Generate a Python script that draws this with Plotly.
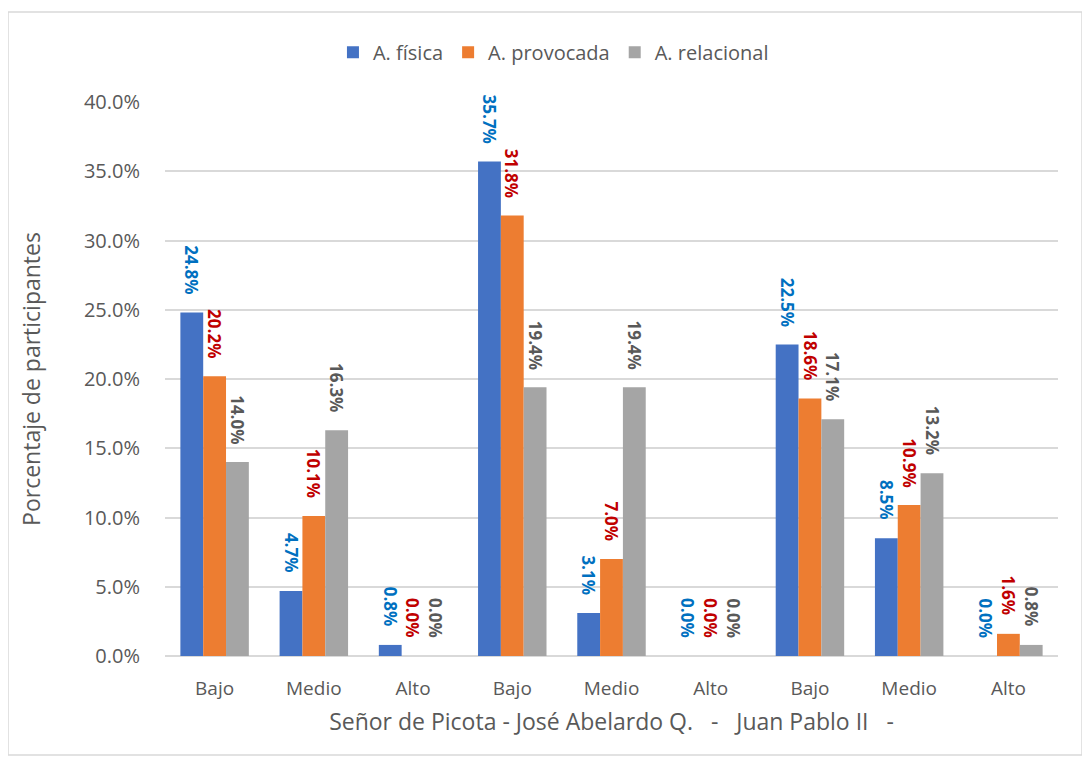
import plotly.graph_objects as go

categories = ["Bajo", "Medio", "Alto", "Bajo", "Medio", "Alto", "Bajo", "Medio", "Alto"]
series_names = ["A. física", "A. provocada", "A. relacional"]
fisica = [24.8, 4.7, 0.8, 35.7, 3.1, 0.0, 22.5, 8.5, 0.0]
provocada = [20.2, 10.1, 0.0, 31.8, 7.0, 0.0, 18.6, 10.9, 1.6]
relacional = [14.0, 16.3, 0.0, 19.4, 19.4, 0.0, 17.1, 13.2, 0.8]
bar_colors = ["#4472C4", "#ED7D31", "#A5A5A5"]
label_colors = ["#0070C0", "#C00000", "#595959"]
y_ticks = [0, 5, 10, 15, 20, 25, 30, 35, 40]
x_title = "Señor de Picota - José Abelardo Q.   -   Juan Pablo II   -"
y_title = "Porcentaje de participantes"

FONT = "Open Sans, Liberation Sans, Arial, sans-serif"
bargap = 0.31
xs = list(range(len(categories)))
all_series = [fisica, provocada, relacional]

fig = go.Figure()
for name, vals, col in zip(series_names, all_series, bar_colors):
    fig.add_trace(go.Bar(x=xs, y=vals, name=name, marker=dict(color=col, line=dict(width=0))))

bw = (1 - bargap) / 3
annotations = []
for i, (vals, lc) in enumerate(zip(all_series, label_colors)):
    for k, v in zip(xs, vals):
        annotations.append(dict(
            x=k + (i - 1) * bw, y=v, xref="x", yref="y",
            text=f"<b>{v:.1f}%</b>", showarrow=False, textangle=90,
            xanchor="center", yanchor="bottom", yshift=16,
            font=dict(family=FONT, size=17, color=lc),
        ))

fig.update_layout(
    width=1090, height=760,
    barmode="group", bargap=bargap, bargroupgap=0,
    paper_bgcolor="white", plot_bgcolor="white",
    margin=dict(l=157, r=40, t=94, b=112),
    font=dict(family=FONT, color="#595959"),
    legend=dict(orientation="h", x=0.435, xanchor="center", y=1.09, yanchor="middle",
                font=dict(size=20, color="#595959"), itemwidth=30, traceorder="normal"),
    xaxis=dict(tickvals=xs, ticktext=categories, range=[-0.5, len(categories) - 0.5],
               showgrid=False, showline=False, ticks="", tickfont=dict(size=19, color="#595959"),
               ticklabelstandoff=19,
               title=dict(text=x_title, font=dict(size=23, color="#595959"), standoff=13)),
    yaxis=dict(range=[0, 40], tickvals=y_ticks, ticktext=[f"{t:.1f}%" for t in y_ticks],
               showgrid=True, gridcolor="#D9D9D9", gridwidth=1.5, zeroline=True,
               zerolinecolor="#D9D9D9", zerolinewidth=1.5, showline=False, ticks="",
               tickfont=dict(size=20, color="#595959"), ticklabelstandoff=24,
               title=dict(text=y_title, font=dict(size=23, color="#595959"), standoff=36)),
    annotations=annotations,
    shapes=[dict(type="rect", xref="paper", yref="paper",
                 x0=-0.1758, x1=1.0269, y0=-0.1787, y1=1.1625,
                 line=dict(color="#D9D9D9", width=1.5), fillcolor="rgba(0,0,0,0)", layer="below")],
)

fig.write_html("out.html")
